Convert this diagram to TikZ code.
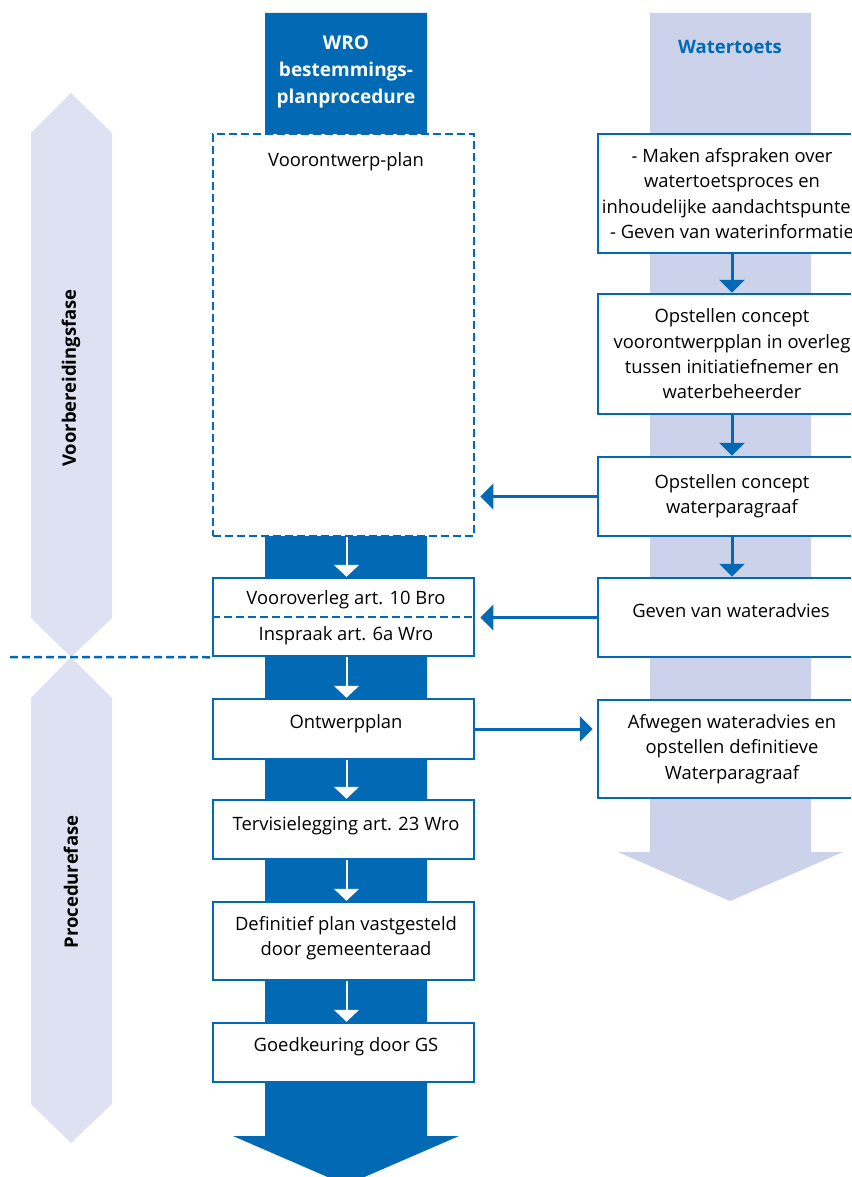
\documentclass[tikz,border=0pt]{standalone}
\usepackage{fontspec}
\setmainfont{Open Sans}
\usetikzlibrary{arrows.meta}
\definecolor{wroblue}{RGB}{2,105,180}
\definecolor{toetslav}{RGB}{203,210,234}
\definecolor{faselav}{RGB}{222,225,242}
\begin{document}
\begin{tikzpicture}[x=1pt,y=-1pt,
  txt/.style={font=\fontsize{18.4}{25.3}\selectfont, align=center, inner sep=0pt},
  box/.style={txt, draw=wroblue, line width=2.5pt, fill=white},
  lbox/.style={box, minimum width=261pt},
  rbox/.style={box, minimum width=268pt},
  dbox/.style={draw=wroblue, line width=2.5pt, dash pattern=on 8pt off 4pt, fill=white, inner sep=0pt},
  bluearrow/.style={draw=wroblue, line width=3pt, -{Triangle[width=25pt,length=13pt]}},
  whitearrow/.style={draw=white, line width=2pt, -{Triangle[width=25pt,length=12pt]}},
  fase/.style={font=\fontsize{18.5}{22}\selectfont\bfseries, rotate=90, inner sep=0pt}
]
\useasboundingbox (0,0) rectangle (851,1177);
\clip (0,0) rectangle (851,1177);

% phase bands on the left
\fill[faselav] (71,93) -- (112,133) -- (112,618) -- (71,657) -- (31,618) -- (31,133) -- cycle;
\fill[faselav] (71,657) -- (112,698) -- (112,1104) -- (71,1143) -- (31,1104) -- (31,698) -- cycle;

% WRO column with its big arrow
\fill[wroblue] (265,13) -- (427,13) -- (427,1136) -- (459,1136) -- (346,1185) -- (233,1136) -- (265,1136) -- cycle;

% Watertoets column with its big arrow
\fill[toetslav] (650,13) -- (811,13) -- (811,852) -- (843,852) -- (730,901) -- (618,852) -- (650,852) -- cycle;

% column headers
\node[txt, font=\fontsize{19}{27}\selectfont\bfseries, text=white] (wro) at (346,72) {WRO\\bestemmings-\\planprocedure};
\node[txt, font=\fontsize{18.5}{22}\selectfont\bfseries, text=wroblue] (toets) at (730,47) {Watertoets};

% phase labels
\node[fase] (voorb) at (71,378) {Voorbereidingsfase};
\node[fase] (proc) at (71,882) {Procedurefase};

% WRO procedure
\node[dbox, minimum width=261pt, minimum height=402pt] (plan) at (343.5,335) {};
\node[txt] (plantxt) at (346,162) {Voorontwerp-plan};

\node[lbox, minimum height=78pt] (overleg) at (343.5,617) {};
\draw[wroblue, line width=2.5pt, dash pattern=on 8pt off 4pt] (overleg.west) -- (overleg.east);
\node[txt] (vooroverleg) at (346,600) {Vooroverleg art. 10 Bro};
\node[txt] (inspraak) at (346,636) {Inspraak art. 6a Wro};

\node[lbox, minimum height=60pt] (ontwerp) at (343.5,729) {};
\node[txt] (ontwerptxt) at (346,724) {Ontwerpplan};
\node[lbox, minimum height=59pt] (tervisie) at (343.5,829.5) {};
\node[txt] (tervisietxt) at (346,826) {Tervisielegging art. 23 Wro};
\node[lbox, minimum height=78pt] (definitief) at (343.5,941) {};
\node[txt] (definitieftxt) at (346,938) {Definitief plan vastgesteld\\door gemeenteraad};
\node[lbox, minimum height=59pt] (goedk) at (343.5,1052.5) {};
\node[txt] (goedktxt) at (346,1047) {Goedkeuring door GS};

% Watertoets steps
\node[rbox, minimum height=119pt] (afspraken) at (732,193.5) {- Maken afspraken over\\watertoetsproces en\\inhoudelijke aandachtspunten\\- Geven van waterinformatie};
\node[rbox, minimum height=120pt] (concept) at (732,354) {Opstellen concept\\voorontwerpplan in overleg\\tussen initiatiefnemer en\\waterbeheerder};
\node[rbox, minimum height=79pt] (parag) at (732,496.5) {Opstellen concept\\waterparagraaf};
\node[rbox, minimum height=79pt] (advies) at (732,617.5) {};
\node[txt] (adviestxt) at (731,611) {Geven van wateradvies};
\node[rbox, minimum height=98pt] (afwegen) at (732,749) {Afwegen wateradvies en\\opstellen definitieve\\Waterparagraaf};

% phase boundary
\coordinate (grensL) at (10,657);
\draw[wroblue, line width=2.5pt, dash pattern=on 8pt off 4pt] (grensL) -- (overleg.south west);

% flow within the WRO column
\draw[whitearrow] ([xshift=3pt]plan.south) -- ([xshift=3pt]overleg.north);
\draw[whitearrow] ([xshift=3pt]overleg.south) -- ([xshift=3pt]ontwerp.north);
\draw[whitearrow] ([xshift=3pt]ontwerp.south) -- ([xshift=3pt]tervisie.north);
\draw[whitearrow] ([xshift=3pt]tervisie.south) -- ([xshift=3pt]definitief.north);
\draw[whitearrow] ([xshift=3pt]definitief.south) -- ([xshift=3pt]goedk.north);

% flow within the Watertoets column
\draw[bluearrow] (afspraken) -- (concept);
\draw[bluearrow] (concept) -- (parag);
\draw[bluearrow] (parag) -- (advies);

% links between the columns
\draw[bluearrow, shorten >=5pt] (parag.west) -- (parag.west -| plan.east);
\draw[bluearrow, shorten >=5pt] (advies.west) -- (advies.west -| overleg.east);
\draw[bluearrow, shorten >=4pt] (ontwerp.east) -- (ontwerp.east -| afwegen.west);
\end{tikzpicture}
\end{document}
